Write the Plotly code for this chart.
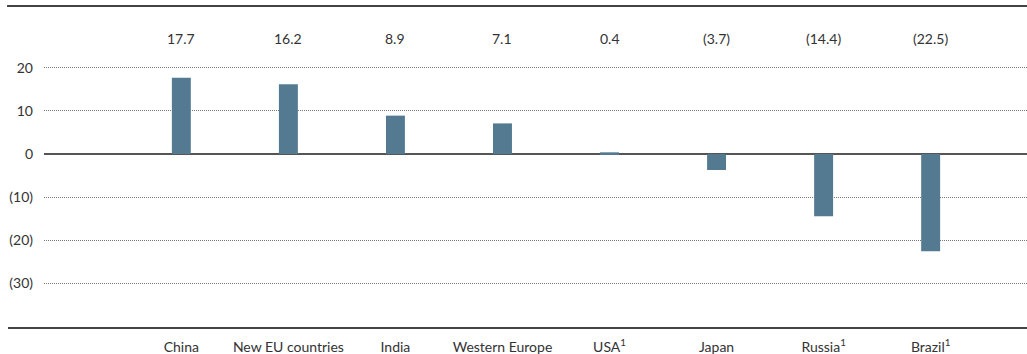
import plotly.graph_objects as go

categories = ["China", "New EU countries", "India", "Western Europe", "USA<sup>1</sup>", "Japan", "Russia<sup>1</sup>", "Brazil<sup>1</sup>"]
values = [17.7, 16.2, 8.9, 7.1, 0.4, -3.7, -14.4, -22.5]
ytick_vals = [20, 10, 0, -10, -20, -30]
ytick_text = ["20", "10", "0", "(10)", "(20)", "(30)"]

def fmt(v):
    return f"({abs(v):.1f})" if v < 0 else f"{v:.1f}"

FONT = "Lato"
TXT = "#333333"
FS = 14

fig = go.Figure()
fig.add_trace(go.Bar(x=categories, y=values, width=0.177,
                     marker=dict(color="#537a91", line=dict(width=0)),
                     hoverinfo="skip"))

for c, v in zip(categories, values):
    fig.add_annotation(x=c, y=26.7, text=fmt(v), showarrow=False,
                       font=dict(family=FONT, size=FS, color=TXT))

fig.add_shape(type="line", xref="paper", yref="paper", x0=-0.0376, x1=1, y0=1, y1=1,
              line=dict(color="#444444", width=2))
fig.add_shape(type="line", xref="paper", yref="paper", x0=-0.0366, x1=1, y0=0, y1=0,
              line=dict(color="#444444", width=2))

fig.update_layout(
    width=1027, height=354,
    margin=dict(l=44, r=0, t=6, b=26),
    paper_bgcolor="white", plot_bgcolor="white",
    showlegend=False,
    font=dict(family=FONT, size=FS, color=TXT),
    xaxis=dict(type="category", categoryorder="array", categoryarray=categories,
               range=[-1.283, 7.90], showgrid=False, showline=False, ticks="",
               ticklabelstandoff=9, tickfont=dict(family=FONT, size=FS, color=TXT)),
    yaxis=dict(range=[-40.3, 34.3], tickvals=ytick_vals, ticktext=ytick_text,
               showgrid=True, gridcolor="#7a7a7a", griddash="1px,1px", gridwidth=1,
               zeroline=True, zerolinecolor="#555555", zerolinewidth=1.5,
               showline=False, ticks="", ticklabelstandoff=10,
               tickfont=dict(family=FONT, size=FS, color=TXT)),
)

fig.write_html("out.html")
